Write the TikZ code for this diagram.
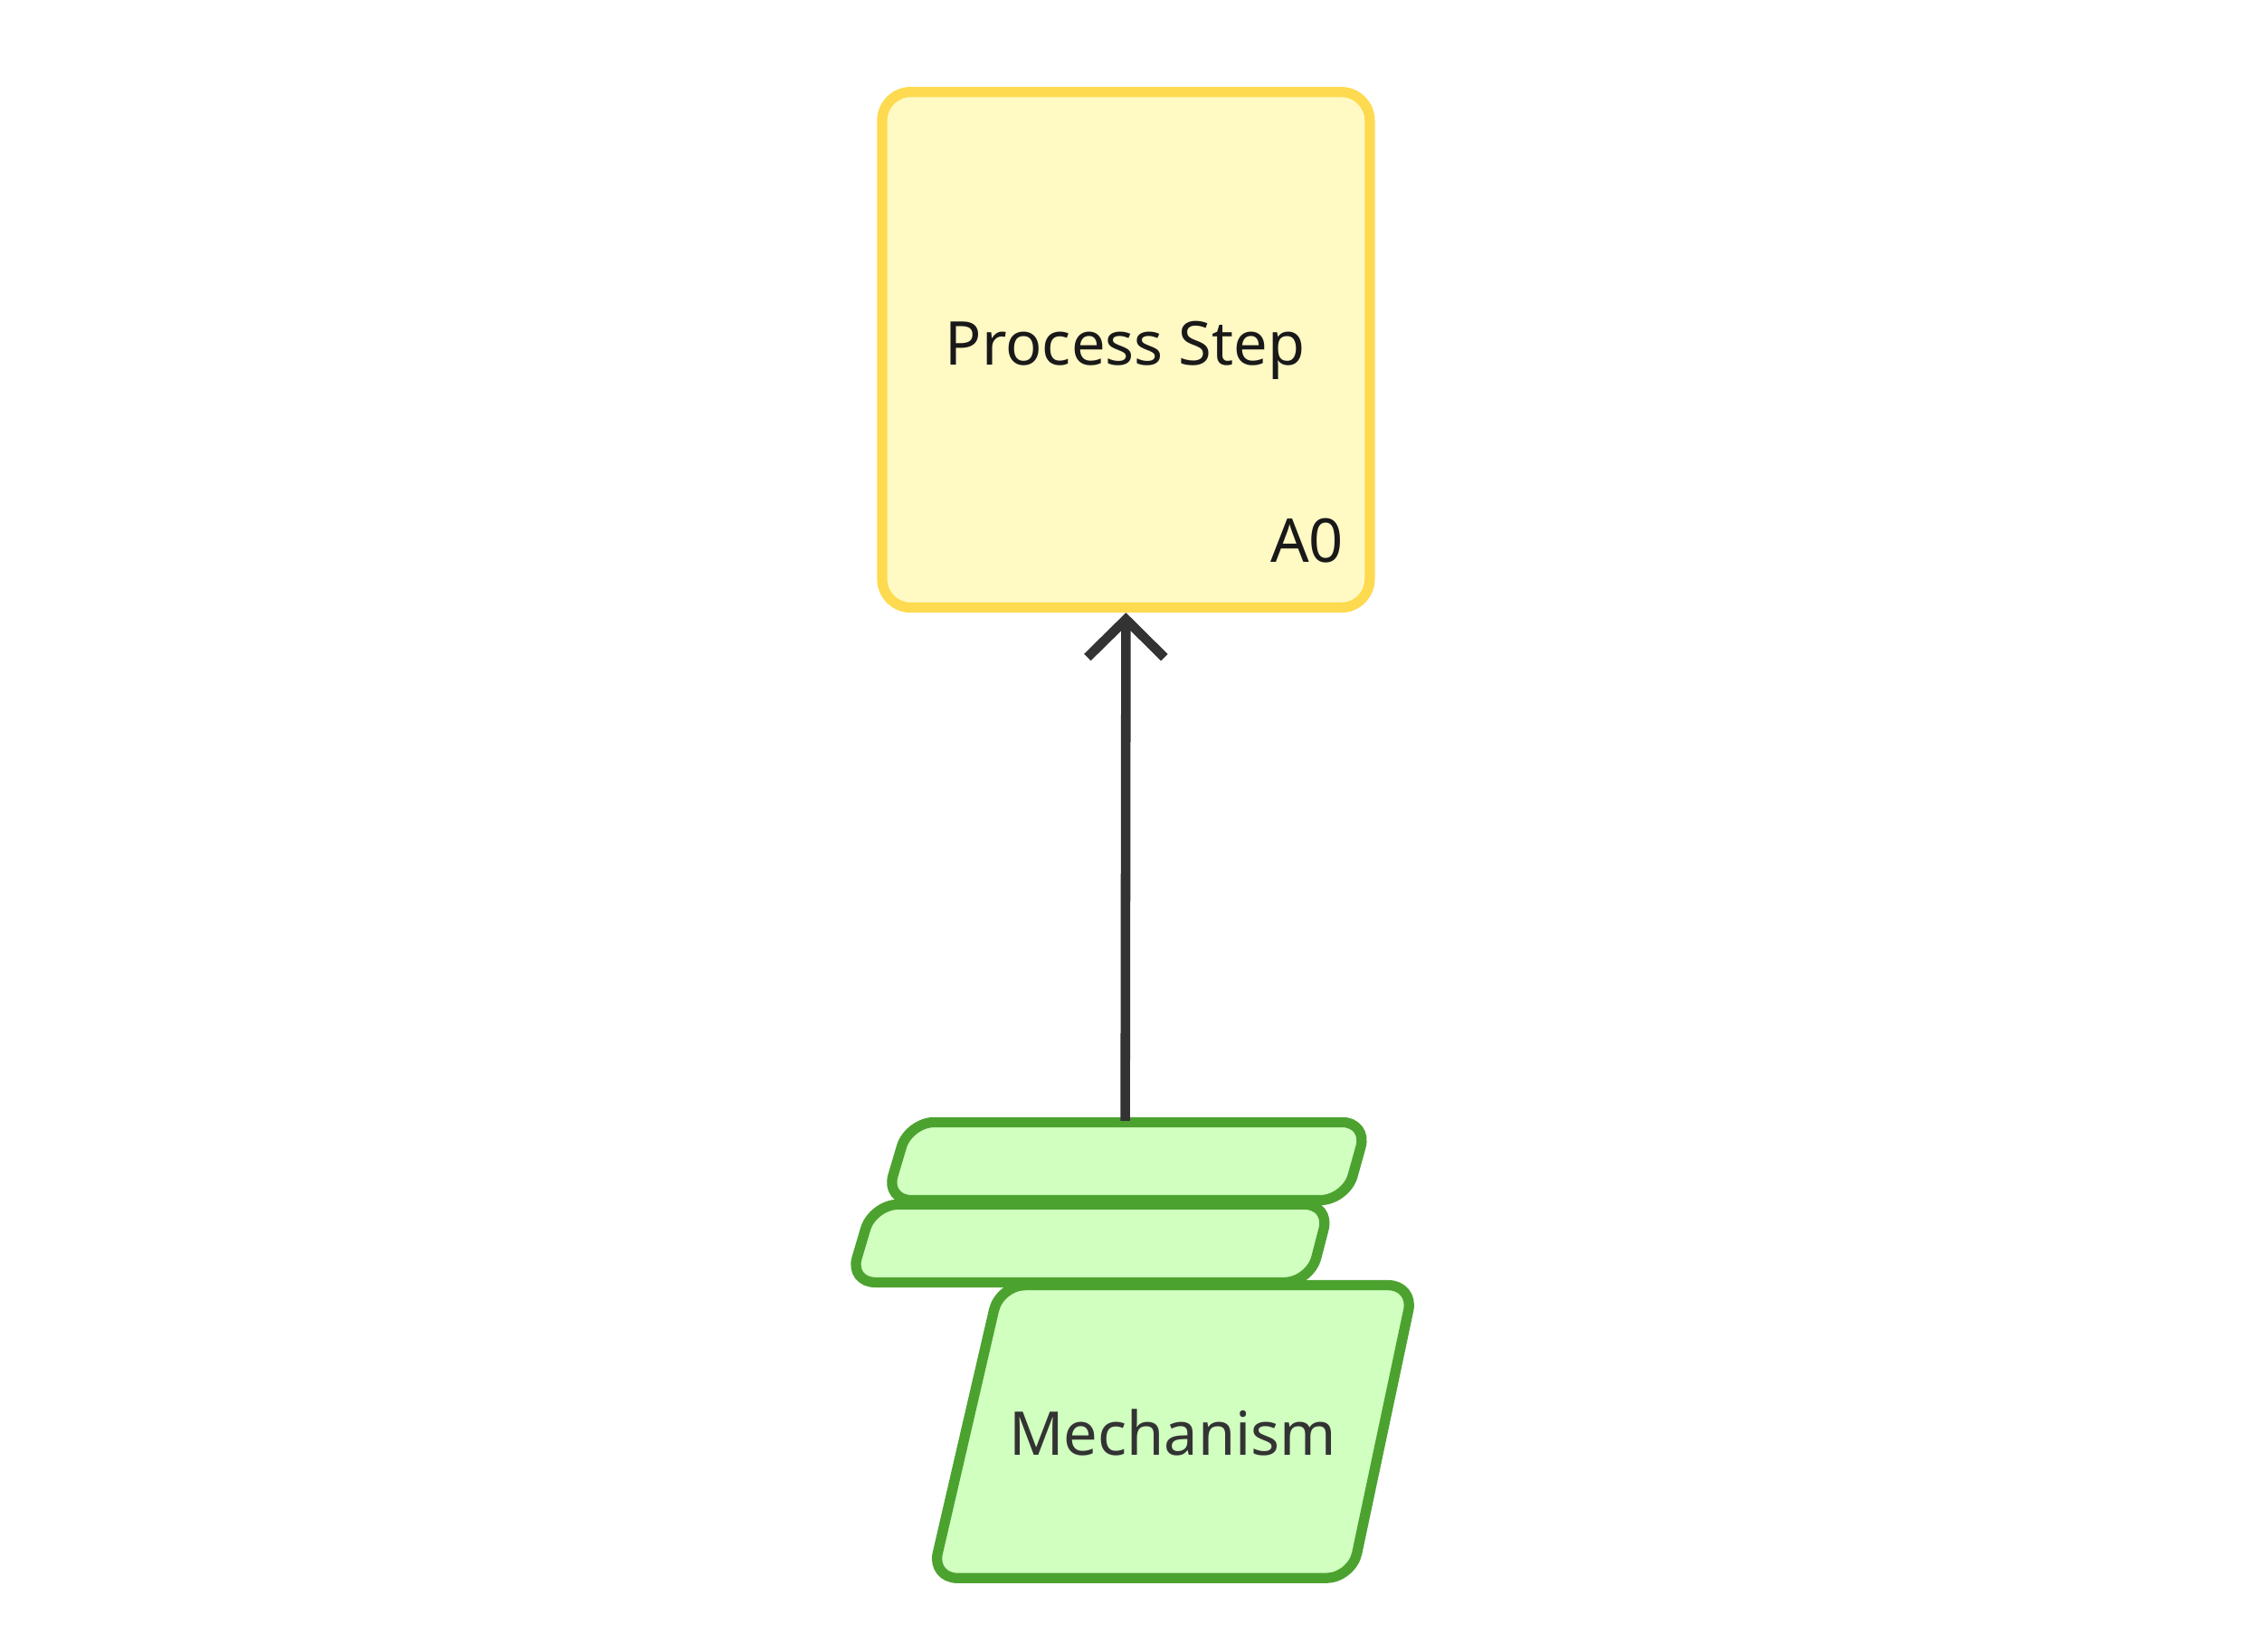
\documentclass[tikz,border=0pt]{standalone}
\usepackage{fontspec}
\setmainfont{Noto Sans}
\usetikzlibrary{positioning,arrows.meta}
\definecolor{stepfill}{HTML}{FFF9C4}
\definecolor{stepline}{HTML}{FDDA4F}
\definecolor{mechfill}{HTML}{D0FFC0}
\definecolor{mechline}{HTML}{4CA22F}
\definecolor{ink}{HTML}{333333}
\begin{document}
\begin{tikzpicture}[
    x=0.01594cm, y=-0.01594cm,
    stepbox/.style={draw=stepline, fill=stepfill, line width=3.2pt, rounded corners=9pt,
        minimum width=5.39cm, minimum height=5.7cm, inner sep=0pt},
    mech/.style={draw=mechline, fill=mechfill, line width=3.2pt, rounded corners=8pt},
    label/.style={font=\bfseries\fontsize{19}{22}\selectfont}
]
    \useasboundingbox (0,0) rectangle (1568,1145);
    % process box
    \node[stepbox] (box) at (780.5,242.5) {};
    \node[label, text=black!90] (boxtext) at (780,243) {Process Step};
    \node[label, text=black!90] (boxid) at (906,375) {A0};
    % mechanism stack
    \draw[mech] (630,778) -- (948,778) -- (933,832) -- (614,832) -- cycle;
    \draw[mech] (605,835) -- (922,835) -- (908,889) -- (589,889) -- cycle;
    \draw[mech] (693,891) -- (980,891) -- (937,1094) -- (646,1094) -- cycle;
    \coordinate (mtop) at (780,777);
    \node[label, text=ink] (mechtext) at (813,993) {Mechanism};
    % connector
    \draw[ink, line width=3pt, -{Straight Barb[length=0.42cm,width=0.85cm,line width=3pt]}]
        (mtop) -- (box.south);
\end{tikzpicture}
\end{document}
